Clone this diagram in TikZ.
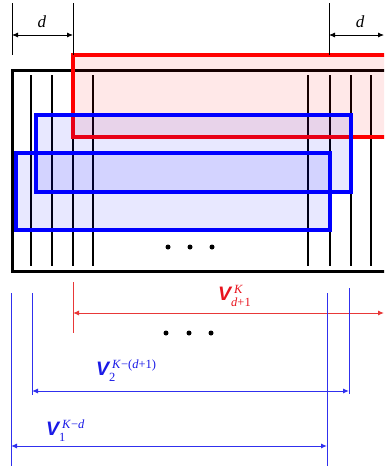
\documentclass[tikz,border=0pt]{standalone}
\usepackage{fontspec}
\setmainfont{Liberation Serif}
\newfontfamily\vfont{Liberation Sans}
\usetikzlibrary{arrows.meta}
\definecolor{lblred}{HTML}{E8141E}
\definecolor{lblblue}{HTML}{1A1AE6}
\definecolor{thinred}{HTML}{E83838}
\definecolor{thinblue}{HTML}{3030EE}
\newcommand{\scrf}{\fontsize{12.5}{12.5}\selectfont}
\newcommand{\Vlab}[2]{{\vfont\bfseries\itshape\fontsize{19.5}{19.5}\selectfont V}\makebox[0pt][l]{\kern3pt\raisebox{7pt}{\scrf #1}}\raisebox{-6pt}{\scrf #2}}
\begin{document}
\begin{tikzpicture}[x=1pt,y=-1pt,
  frame/.style={draw=black,line width=3pt},
  gline/.style={black,line width=1.5pt},
  redbox/.style={draw=red,line width=4pt,fill=red,fill opacity=0.09},
  bluebox/.style={draw=blue,line width=4pt,fill=blue,fill opacity=0.09},
  dimline/.style={black,line width=0.8pt},
  dimarrow/.style={black,line width=0.8pt,{Latex[length=6pt,width=5pt]}-{Latex[length=6pt,width=5pt]}},
  redext/.style={thinred,line width=1pt},
  redarrow/.style={thinred,line width=1pt,{Latex[length=6pt,width=5pt]}-{Latex[length=6pt,width=5pt]}},
  blueext/.style={thinblue,line width=1pt},
  bluearrow/.style={thinblue,line width=1pt,{Latex[length=6pt,width=5pt]}-{Latex[length=6pt,width=5pt]}},
  dlabel/.style={font=\fontsize{17}{17}\selectfont\itshape,inner sep=0pt},
  dot/.style={circle,fill=black,inner sep=0pt,minimum size=5pt}]
\useasboundingbox (0,0) rectangle (384,466);
\clip (0,0) rectangle (384,466);
% main frame
\draw[frame] (12,70) rectangle (400,271.5);
\foreach \x in {31,52,73,93,308,330,351,371}
  \draw[gline] (\x,75) -- (\x,265.5);
% boxes
\draw[redbox] (73,55) rectangle (400,137);
\draw[bluebox] (35.5,115) rectangle (350.5,191.5);
\draw[bluebox] (15.5,152.5) rectangle (329.5,230);
% dots inside
\node[dot] (p1) at (168,247) {};
\node[dot] (p2) at (190,247) {};
\node[dot] (p3) at (212,247) {};
% top dimensions
\coordinate (dl1) at (12,3);  \coordinate (dl1b) at (12,55);
\coordinate (dl2) at (73,3);  \coordinate (dl2b) at (73,55);
\coordinate (dr1) at (329,3); \coordinate (dr1b) at (329,55);
\draw[dimline] (dl1) -- (dl1b);
\draw[dimline] (dl2) -- (dl2b);
\draw[dimline] (dr1) -- (dr1b);
\coordinate (al) at (12,35); \coordinate (ar) at (73,35);
\coordinate (bl) at (329,35); \coordinate (br) at (384,35);
\draw[dimarrow] (al) -- (ar);
\draw[dimarrow] (bl) -- (br);
\node[dlabel] (d1) at (42,22) {d};
\node[dlabel] (d2) at (360,22) {d};
% red extent V_{d+1}^K
\coordinate (r1) at (73,282); \coordinate (r1b) at (73,333);
\draw[redext] (r1) -- (r1b);
\coordinate (ra) at (73,313); \coordinate (rb) at (384,313);
\draw[redarrow] (ra) -- (rb);
\node[anchor=base west,inner sep=0pt,text=lblred] (vr) at (218,300) {\Vlab{\textit{K}}{\textit{d}+1}};
% dots below
\node[dot] (q1) at (166,333) {};
\node[dot] (q2) at (189,333) {};
\node[dot] (q3) at (211,333) {};
% blue extent V_2
\coordinate (u1) at (32,293); \coordinate (u1b) at (32,395);
\coordinate (u2) at (349,288); \coordinate (u2b) at (349,394);
\draw[blueext] (u1) -- (u1b);
\draw[blueext] (u2) -- (u2b);
\coordinate (ua) at (32,391); \coordinate (ub) at (349,391);
\draw[bluearrow] (ua) -- (ub);
\node[anchor=base west,inner sep=0pt,text=lblblue] (v2) at (96,375) {\Vlab{\textit{K}−(\textit{d}+1)}{2}};
% blue extent V_1
\coordinate (w1) at (11,293); \coordinate (w1b) at (11,466);
\coordinate (w2) at (327,293); \coordinate (w2b) at (327,466);
\draw[blueext] (w1) -- (w1b);
\draw[blueext] (w2) -- (w2b);
\coordinate (wa) at (11,446); \coordinate (wb) at (327,446);
\draw[bluearrow] (wa) -- (wb);
\node[anchor=base west,inner sep=0pt,text=lblblue] (v1) at (46,435) {\Vlab{\textit{K}−\textit{d}}{1}};
\end{tikzpicture}
\end{document}
